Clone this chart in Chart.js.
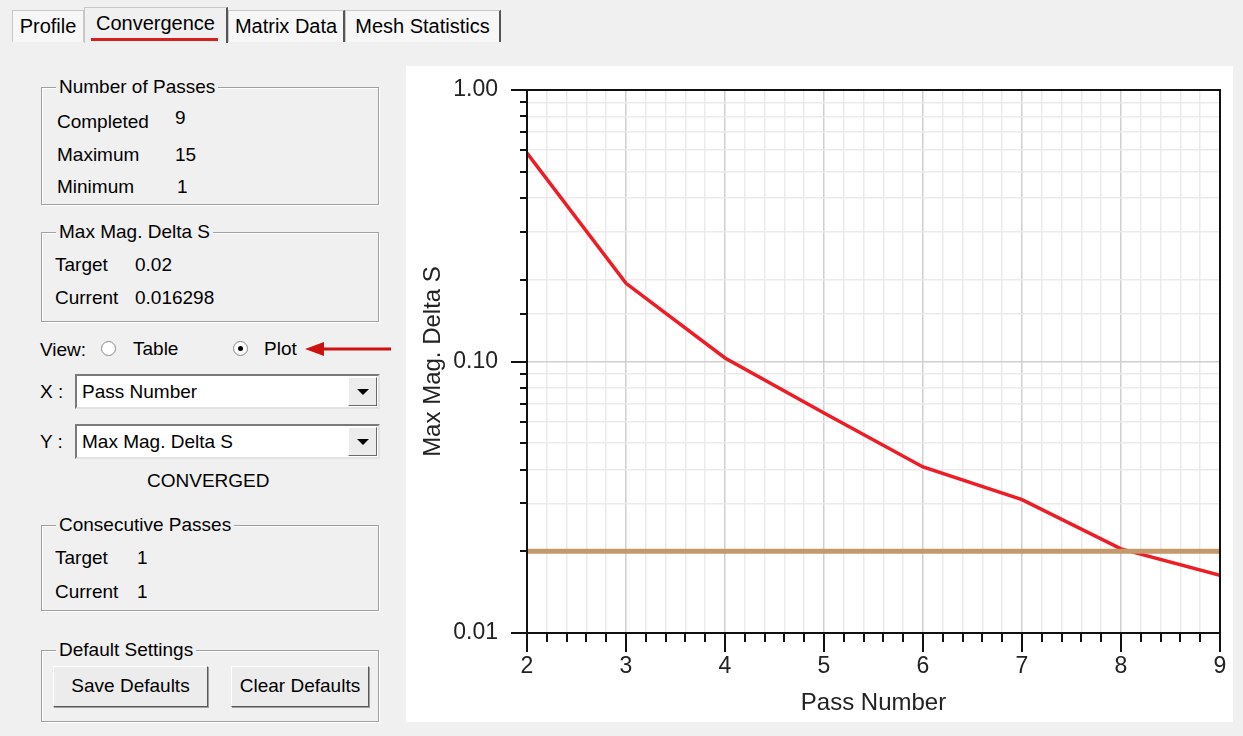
<!DOCTYPE html>
<html lang="en">
<head>
    <meta charset="UTF-8">
    <title>Convergence</title>
    <script src="https://cdn.jsdelivr.net/npm/chart.js"></script>
    <style>
        html, body { margin: 0; padding: 0; background: #f0f0f0; }
        #win { position: relative; width: 1243px; height: 736px; overflow: hidden;
               font-family: "Liberation Sans", Arial, sans-serif; font-size: 19px; color: #000; }
        .abs { position: absolute; white-space: nowrap; line-height: 22px; }
        .tab { position: absolute; top: 10px; height: 32px; background: #f7f7f7;
               border: 1px solid #c8c8c8; border-bottom: none; box-sizing: border-box;
               font-size: 20px; line-height: 30px; text-align: center; }
        .tab.sel { top: 7px; height: 36px; background: #f0f0f0; border-right: 2px solid #555; }
        .tab.dark { border-right: 2px solid #555; }
        .group { position: absolute; left: 41px; width: 338px; box-sizing: border-box;
                 border: 1px solid #a0a0a0; box-shadow: 1px 1px 0 #fff inset, 1px 1px 0 #fff; }
        .group .cap { position: absolute; left: 14px; top: -12px; background: #f0f0f0;
                      padding: 0 3px; line-height: 22px; }
        .radio { position: absolute; width: 13px; height: 13px; border-radius: 50%;
                 border: 1px solid #8a8a8a; background: #fff; }
        .radio.on::after { content: ""; position: absolute; left: 4px; top: 4px; width: 5px; height: 5px;
                           border-radius: 50%; background: #000; }
        .select { position: absolute; left: 75px; width: 305px; height: 35px; box-sizing: border-box;
                  background: #fff; border: 2px solid; border-color: #7a7a7a #e3e3e3 #e3e3e3 #7a7a7a; }
        .select span { position: absolute; left: 5px; top: 5px; line-height: 22px; }
        .select .btn { position: absolute; right: 1px; top: 1px; width: 29px; height: 29px; box-sizing: border-box;
                       background: #ececec; border: 1px solid; border-color: #fff #6a6a6a #6a6a6a #fff; }
        .select .btn::after { content: ""; position: absolute; left: 8px; top: 11px;
                              border-left: 6px solid transparent; border-right: 6px solid transparent;
                              border-top: 6px solid #000; }
        .button { position: absolute; top: 666px; height: 41px; box-sizing: border-box; background: #ececec;
                  border: 1px solid; border-color: #fff #5a5a5a #5a5a5a #fff; box-shadow: 1px 1px 0 #a0a0a0;
                  text-align: center; line-height: 38px; }
        #plotPanel { position: absolute; left: 406px; top: 66px; width: 827px; height: 656px; background: #fff; }
    </style>
</head>
<body>
<div id="win">
    <!-- tabs -->
    <div class="tab" style="left:12px;width:72px;">Profile</div>
    <div class="tab sel" style="left:84px;width:144px;">Convergence
        <div style="position:absolute;left:6px;right:8px;top:30px;height:3px;background:#d81e1e;"></div></div>
    <div class="tab dark" style="left:228px;width:117px;">Matrix Data</div>
    <div class="tab dark" style="left:345px;width:156px;">Mesh Statistics</div>

    <!-- number of passes -->
    <div class="group" style="top:87px;height:118px;"><span class="cap">Number of Passes</span></div>
    <div class="abs" style="left:57px;top:111px;">Completed</div>
    <div class="abs" style="left:175px;top:107px;">9</div>
    <div class="abs" style="left:57px;top:144px;">Maximum</div>
    <div class="abs" style="left:175px;top:144px;">15</div>
    <div class="abs" style="left:57px;top:176px;">Minimum</div>
    <div class="abs" style="left:177px;top:176px;">1</div>

    <!-- max mag delta s -->
    <div class="group" style="top:232px;height:90px;"><span class="cap">Max Mag. Delta S</span></div>
    <div class="abs" style="left:55px;top:254px;">Target</div>
    <div class="abs" style="left:135px;top:254px;">0.02</div>
    <div class="abs" style="left:55px;top:287px;">Current</div>
    <div class="abs" style="left:135px;top:287px;">0.016298</div>

    <!-- view -->
    <div class="abs" style="left:40px;top:339px;">View:</div>
    <div class="radio" style="left:101px;top:341px;"></div>
    <div class="abs" style="left:133px;top:338px;">Table</div>
    <div class="radio on" style="left:233px;top:341px;"></div>
    <div class="abs" style="left:264px;top:338px;">Plot</div>
    <svg style="position:absolute;left:300px;top:338px;" width="95" height="22">
        <line x1="18" y1="11" x2="91" y2="11" stroke="#cc1111" stroke-width="3"/>
        <polygon points="5,11 24,4 24,18" fill="#cc1111"/>
    </svg>

    <div class="abs" style="left:40px;top:381px;">X :</div>
    <div class="select" style="top:374px;"><span>Pass Number</span><div class="btn"></div></div>
    <div class="abs" style="left:40px;top:431px;">Y :</div>
    <div class="select" style="top:424px;"><span>Max Mag. Delta S</span><div class="btn"></div></div>
    <div class="abs" style="left:147px;top:470px;">CONVERGED</div>

    <!-- consecutive passes -->
    <div class="group" style="top:525px;height:86px;"><span class="cap">Consecutive Passes</span></div>
    <div class="abs" style="left:55px;top:547px;">Target</div>
    <div class="abs" style="left:137px;top:547px;">1</div>
    <div class="abs" style="left:55px;top:581px;">Current</div>
    <div class="abs" style="left:137px;top:581px;">1</div>

    <!-- default settings -->
    <div class="group" style="top:650px;height:72px;"><span class="cap">Default Settings</span></div>
    <div class="button" style="left:53px;width:155px;">Save Defaults</div>
    <div class="button" style="left:231px;width:138px;">Clear Defaults</div>

    <div id="plotPanel"><canvas id="myChart" width="827" height="656"></canvas></div>
</div>
<script>
    // Convergence data (pass 1 has no delta)
    const passes = [2, 3, 4, 5, 6, 7, 8, 9];
    const maxMagDeltaS = [0.586, 0.194, 0.103, 0.0646, 0.0409, 0.0310, 0.0204, 0.0163];
    const targetDeltaS = 0.02;
    const yMajorTicks = [0.01, 0.1, 1];
    const xTickLabels = ['2', '3', '4', '5', '6', '7', '8', '9'];

    const isYMajor = v => yMajorTicks.some(t => Math.abs(v - t) < t * 1e-6);
    const isXMajor = v => Math.abs(v - Math.round(v)) < 1e-6;

    // frame round the plot plus long/short tick marks, placed through the scales
    const framePlugin = {
        id: 'frame',
        afterDraw(chart) {
            const ctx = chart.ctx;
            const a = chart.chartArea;
            const xs = chart.scales.x, ys = chart.scales.y;
            ctx.save();
            ctx.strokeStyle = '#111';
            ctx.lineWidth = 2;
            ctx.strokeRect(a.left, a.top, a.right - a.left, a.bottom - a.top);
            ctx.beginPath();
            ys.ticks.forEach(t => {
                const py = Math.round(ys.getPixelForValue(t.value));
                const len = isYMajor(t.value) ? 16 : 7;
                ctx.moveTo(a.left - len, py);
                ctx.lineTo(a.left, py);
            });
            xs.ticks.forEach(t => {
                const px = Math.round(xs.getPixelForValue(t.value));
                const len = isXMajor(t.value) ? 19 : 9;
                ctx.moveTo(px, a.bottom);
                ctx.lineTo(px, a.bottom + len);
            });
            ctx.stroke();
            ctx.restore();
        }
    };

    Chart.defaults.font.family = '"Liberation Sans", Arial, sans-serif';
    Chart.defaults.color = '#222';

    const ctx = document.getElementById('myChart').getContext('2d');
    const myChart = new Chart(ctx, {
        type: 'line',
        data: {
            datasets: [{
                label: 'Max Mag. Delta S',
                data: passes.map((p, i) => ({ x: p, y: maxMagDeltaS[i] })),
                borderColor: '#ee1c24',
                borderWidth: 3.5,
                pointRadius: 0,
                tension: 0,
                order: 1
            }, {
                label: 'Target',
                data: passes.map(p => ({ x: p, y: targetDeltaS })),
                borderColor: '#c49a6a',
                borderWidth: 5,
                pointRadius: 0,
                order: 0
            }]
        },
        options: {
            responsive: false,
            animation: false,
            devicePixelRatio: 1,
            layout: { padding: { left: 0, top: 24, right: 13, bottom: 0 } },
            plugins: {
                legend: { display: false },
                tooltip: { enabled: false }
            },
            scales: {
                x: {
                    type: 'linear',
                    min: passes[0],
                    max: passes[passes.length - 1],
                    afterFit: s => { s.height = 89; },
                    border: { color: '#111', width: 2 },
                    grid: {
                        drawTicks: true,
                        tickLength: 20,
                        tickColor: 'rgba(0,0,0,0)',
                        lineWidth: 1.5,
                        color: c => (c.tick && isXMajor(c.tick.value)) ? '#cfcfcf' : '#ebebeb'
                    },
                    ticks: {
                        stepSize: 0.2,
                        maxTicksLimit: 60,
                        autoSkip: false,
                        maxRotation: 0,
                        padding: 0,
                        font: { size: 23 },
                        callback: v => isXMajor(v) ? xTickLabels[Math.round(v) - passes[0]] : ''
                    },
                    title: {
                        display: true,
                        text: 'Pass Number',
                        font: { size: 24 },
                        padding: { top: 0, bottom: 4 }
                    }
                },
                y: {
                    type: 'logarithmic',
                    min: yMajorTicks[0],
                    max: yMajorTicks[yMajorTicks.length - 1],
                    afterFit: s => { s.width = 121; },
                    border: { color: '#111', width: 2 },
                    grid: {
                        drawTicks: true,
                        tickLength: 29,
                        tickColor: 'rgba(0,0,0,0)',
                        lineWidth: 1.5,
                        color: c => (c.tick && isYMajor(c.tick.value)) ? '#cfcfcf' : '#ebebeb'
                    },
                    ticks: {
                        autoSkip: false,
                        padding: 0,
                        font: { size: 23 },
                        callback: v => isYMajor(v) ? Number(v).toFixed(2) : ''
                    },
                    title: {
                        display: true,
                        text: 'Max Mag. Delta S',
                        font: { size: 24 },
                        padding: { top: 13, bottom: 0 }
                    }
                }
            }
        },
        plugins: [framePlugin]
    });
</script>
</body>
</html>
